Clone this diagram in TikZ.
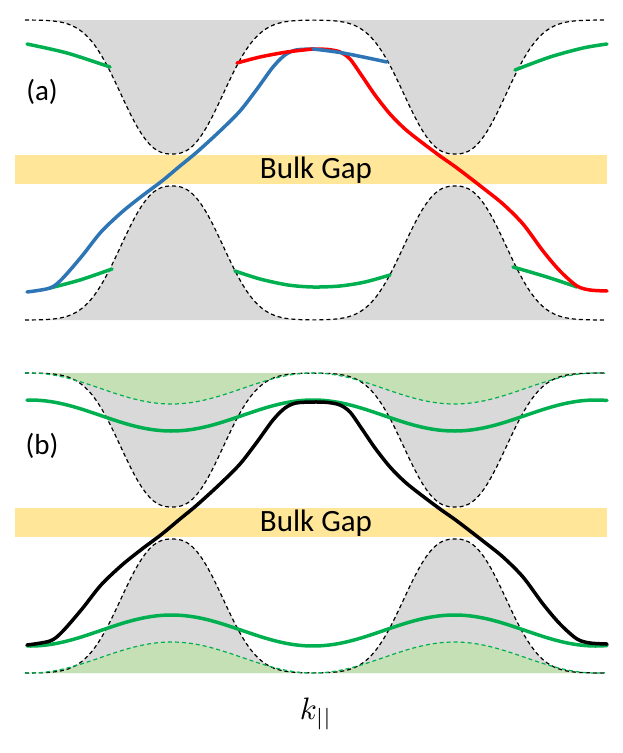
\documentclass[tikz,border=0pt]{standalone}
\usepackage{fontspec}
\setmainfont{Carlito}
\definecolor{bulkgray}{RGB}{217,217,217}
\definecolor{gapgold}{RGB}{255,230,153}
\definecolor{edgegreen}{RGB}{0,176,80}
\definecolor{edgeblue}{RGB}{46,117,182}
\definecolor{edgered}{RGB}{255,0,0}
\definecolor{palegreen}{RGB}{197,224,180}

\begin{document}
\begin{tikzpicture}[x=1pt, y=-1pt,
        declare function={dip(\x)=134*exp(-((abs(\x-172)+0.01)/63)^2.5)+134*exp(-((abs(\x-455)+0.01)/63)^2.5);
            wave(\x)=cos(1.27208*(\x-313));},
        bulkedge/.style={black, line width=1.2pt, dash pattern=on 4pt off 3pt},
        waveedge/.style={edgegreen, line width=1.2pt, dash pattern=on 4pt off 3pt},
        state/.style={line width=3.5pt, line cap=round, line join=round},
        panellabel/.style={font=\fontsize{29}{32}\selectfont},
        gaptext/.style={font=\fontsize{31}{34}\selectfont}]
        \useasboundingbox (0,0) rectangle (623,753);

        % Draw bulk areas (a)
        \fill[bulkgray] (25,20) -- plot[domain=25:605, samples=150] (\x, {20+dip(\x)}) -- (605,20) -- cycle;
        \fill[bulkgray] (25,320) -- plot[domain=25:605, samples=150] (\x, {320-dip(\x)}) -- (605,320) -- cycle;

        % Draw bulk areas (b)
        \fill[bulkgray, shift={(0,353)}] (25,20) -- plot[domain=25:605, samples=150] (\x, {20+dip(\x)}) -- (605,20) -- cycle;
        \fill[bulkgray, shift={(0,353)}] (25,320) -- plot[domain=25:605, samples=150] (\x, {320-dip(\x)}) -- (605,320) -- cycle;
        \fill[palegreen, shift={(0,353)}] (25,20) -- plot[domain=25:605, samples=150] (\x, {35.5-15.5*wave(\x)}) -- (605,20) -- cycle;
        \fill[palegreen, shift={(0,353)}] (25,320) -- plot[domain=25:605, samples=150] (\x, {304.5+15.5*wave(\x)}) -- (605,320) -- cycle;

        % Draw gaps
        \fill[gapgold] (15,155) rectangle (607,184);
        \fill[gapgold, shift={(0,353)}] (15,155) rectangle (607,184);
        \node[gaptext] (gapA) at (316,170) {Bulk Gap};
        \node[gaptext] (gapB) at (316,523) {Bulk Gap};

        % Draw bulk edges
        \draw[bulkedge] plot[domain=25:605, samples=150] (\x, {20+dip(\x)});
        \draw[bulkedge] plot[domain=25:605, samples=150] (\x, {320-dip(\x)});
        \draw[bulkedge, shift={(0,353)}] plot[domain=25:605, samples=150] (\x, {20+dip(\x)});
        \draw[bulkedge, shift={(0,353)}] plot[domain=25:605, samples=150] (\x, {320-dip(\x)});
        \draw[waveedge, shift={(0,353)}] plot[domain=25:605, samples=150] (\x, {35.5-15.5*wave(\x)});
        \draw[waveedge, shift={(0,353)}] plot[domain=25:605, samples=150] (\x, {304.5+15.5*wave(\x)});

        % Draw trivial states (a)
        \draw[state, edgegreen] plot[smooth] coordinates {(27,44) (67,53) (110,67)};
        \draw[state, edgegreen] plot[smooth] coordinates {(515,70) (550,57) (583,48) (607,44)};
        \draw[state, edgegreen] plot[smooth] coordinates {(50,288) (80,280) (112,269)};
        \draw[state, edgegreen] plot[smooth] coordinates {(235,271) (260,279) (288,285) (313,287) (340,286) (365,282) (390,275)};
        \draw[state, edgegreen] plot[smooth] coordinates {(513,267) (547,277) (577,287)};

        % Draw edge states (a)
        \draw[state, edgeblue] plot[smooth, tension=0.5] coordinates {(27,292) (50,288) (62,279) (82,256) (101,232) (122,212) (142,196) (162,181) (180,166) (197,152) (220,131) (240,111) (257,89) (273,67) (285,55) (296,50) (313,49)};
        \draw[state, edgered] plot[smooth] coordinates {(237,63) (260,57) (287,52) (313,49)};
        \draw[state, edgered] plot[smooth, tension=0.5] coordinates {(313,49) (328,49.5) (340,52) (350,59) (362,76) (375,95) (390,114) (405,129) (420,141) (440,156) (457,168) (483,188) (503,204) (523,224) (543,251) (560,271) (577,286) (590,290) (607,291)};
        \draw[state, edgeblue] plot[smooth] coordinates {(313,49) (343,53) (387,62)};

        % Draw trivial and edge states (b)
        \draw[state, edgegreen, shift={(0,353)}] plot[domain=27:607, samples=150] (\x, {62.5-15.5*wave(\x)});
        \draw[state, edgegreen, shift={(0,353)}] plot[domain=27:607, samples=150] (\x, {277.5+15.5*wave(\x)});
        \draw[state, black, shift={(0,353)}] plot[smooth, tension=0.5] coordinates {(27,292) (50,288) (62,279) (82,256) (101,232) (122,212) (142,196) (162,181) (180,166) (197,152) (220,131) (240,111) (257,89) (273,67) (285,55) (296,50) (313,49)
            (328,49.5) (340,52) (350,59) (362,76) (375,95) (390,114) (405,129) (420,141) (440,156) (457,168) (483,188) (503,204) (523,224) (543,251) (560,271) (577,286) (590,290) (607,291)};

        % Add labels
        \node[panellabel] (labA) at (42,92) {(a)};
        \node[panellabel] (labB) at (42,446) {(b)};
        \node (kpar) at (316,714) {\scalebox{3.1}{$k_{||}$}};
    \end{tikzpicture}
\end{document}
